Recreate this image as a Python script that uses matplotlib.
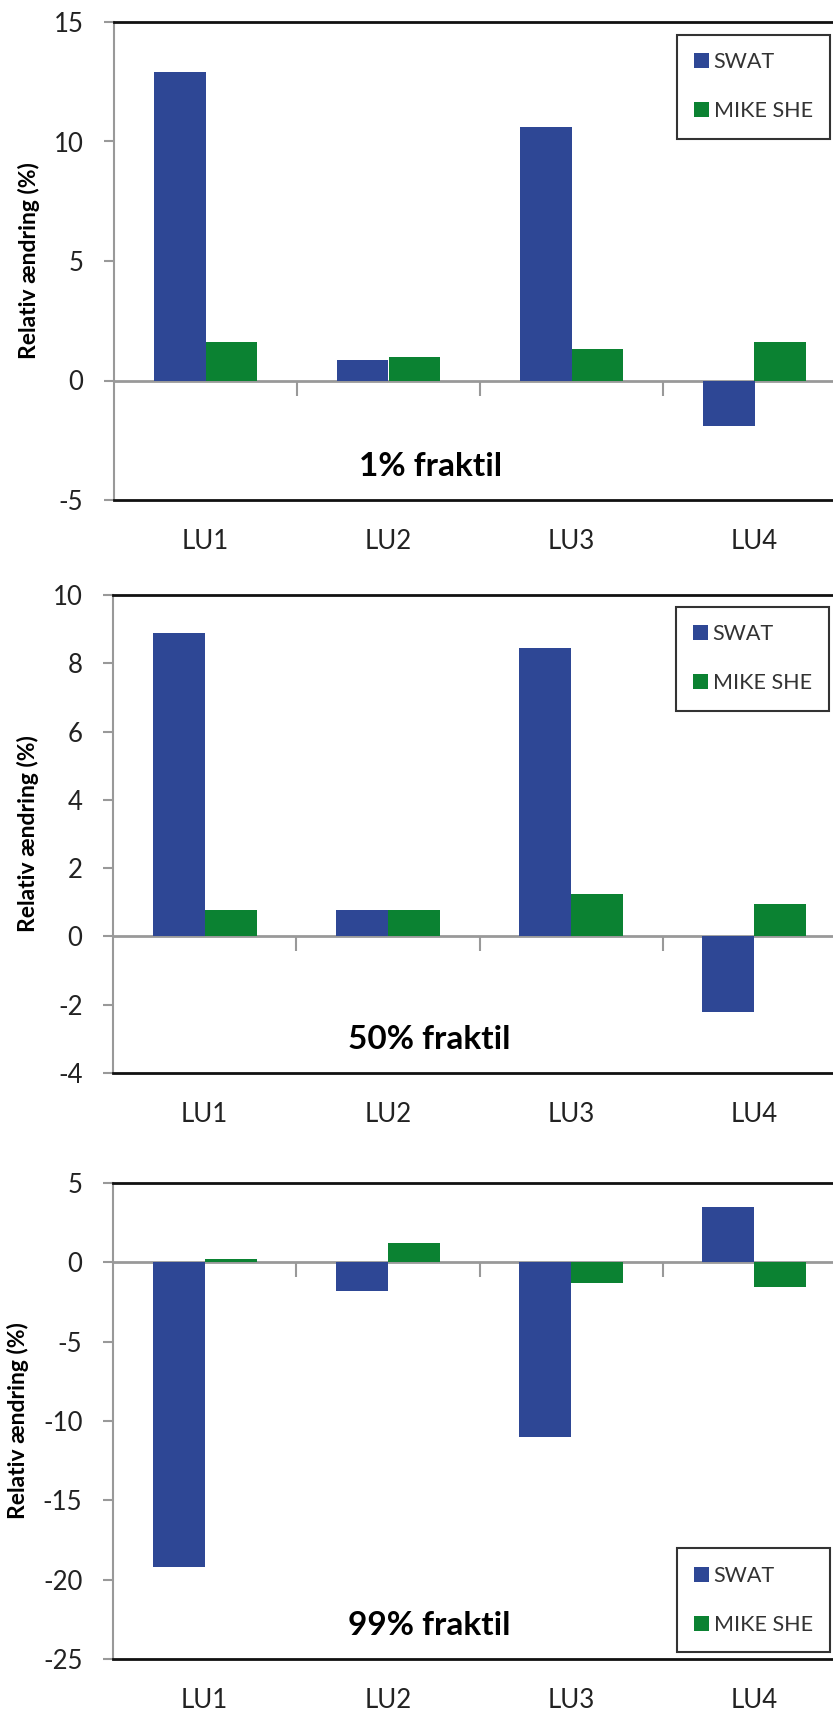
import numpy as np
import matplotlib.pyplot as plt

# Data
categories = ['LU1', 'LU2', 'LU3', 'LU4']
swat_p01 = [12.9, 0.85, 10.6, -1.9]
mike_p01 = [1.6, 1.0, 1.3, 1.6]
swat_p50 = [8.9, 0.78, 8.45, -2.2]
mike_p50 = [0.78, 0.78, 1.24, 0.96]
swat_p99 = [-19.2, -1.8, -11.0, 3.5]
mike_p99 = [0.18, 1.2, -1.3, -1.55]

panels = [
    (swat_p01, mike_p01, '1% fraktil', (-5, 15), [-5, 0, 5, 10, 15], 'upper'),
    (swat_p50, mike_p50, '50% fraktil', (-4, 10), [-4, -2, 0, 2, 4, 6, 8, 10], 'upper'),
    (swat_p99, mike_p99, '99% fraktil', (-25, 5), [-25, -20, -15, -10, -5, 0, 5], 'lower'),
]

BLUE = '#2E4795'
GREEN = '#0B8232'
FONT = 'Lato'

W, H = 833, 1712
fig = plt.figure(figsize=(W / 100, H / 100), dpi=100)

# axes rectangles in pixels: (left, top, right, bottom)
rects = [(114, 22, 846, 500), (113, 595, 846, 1073), (113, 1183, 846, 1659)]
legend_boxes = [(830, 35), (829, 607), (830, 1555)]  # (right, top/bottom) px

x = np.arange(len(categories))
bw = 0.284

for (swat, mike, title, ylim, yticks, legpos), (l, t, r, b), (lr, lv) in zip(panels, rects, legend_boxes):
    ax = fig.add_axes([l / W, 1 - b / H, (r - l) / W, (b - t) / H])
    ax.bar(x - bw / 2, swat, bw, color=BLUE, label='SWAT', zorder=2)
    ax.bar(x + bw / 2, mike, bw, color=GREEN, label='MIKE SHE', zorder=2)
    ax.set_xlim(-0.5, 3.5)
    ax.set_ylim(*ylim)
    ax.set_yticks(yticks)
    ax.set_yticklabels([str(v) for v in yticks], family=FONT, fontsize=18.5, color='#222222')
    ax.set_xticks(x)
    ax.set_xticklabels(categories, family=FONT, fontsize=18.5, color='#222222')
    ax.tick_params(axis='x', length=0, pad=21)
    ax.tick_params(axis='y', length=7, width=1.5, color='#999999', pad=15)

    for s in ['top', 'bottom']:
        ax.spines[s].set_color('#111111')
        ax.spines[s].set_linewidth(2)
    ax.spines['left'].set_color('#999999')
    ax.spines['left'].set_linewidth(1.5)
    ax.spines['right'].set_visible(False)

    # zero line with category separator ticks
    zx = ax.secondary_xaxis(0, transform=ax.transData)
    zx.set_xticks(x[:-1] + 0.5)
    zx.set_xticklabels([])
    zx.tick_params(length=11, width=1.5, color='#999999')
    zx.spines['bottom'].set_color('#999999')
    zx.spines['bottom'].set_linewidth(2)

    ax.set_ylabel('Relativ ændring (%)', family=FONT, fontweight='bold', fontsize=16.5, labelpad=10)

    ax.text(0.432, 0.07, title, transform=ax.transAxes, ha='center', va='center',
            family=FONT, fontweight='bold', fontsize=24)

    ax_w, ax_h = r - l, b - t
    if legpos == 'upper':
        anchor = ((lr - l) / ax_w, (b - lv) / ax_h)
        loc = 'upper right'
    else:
        anchor = ((lr - l) / ax_w, (b - lv - 97) / ax_h)
        loc = 'lower right'
    leg = ax.legend(loc=loc, bbox_to_anchor=anchor, frameon=True, fancybox=False,
                    prop={'family': FONT, 'size': 15.5}, handlelength=0.7, handleheight=0.7,
                    handletextpad=0.2, labelspacing=1.35, borderpad=0.8, borderaxespad=0)
    leg.get_frame().set_edgecolor('black')
    leg.get_frame().set_linewidth(1.5)
    for txt in leg.get_texts():
        txt.set_color('#333333')

fig.savefig('out.png', dpi=100)
